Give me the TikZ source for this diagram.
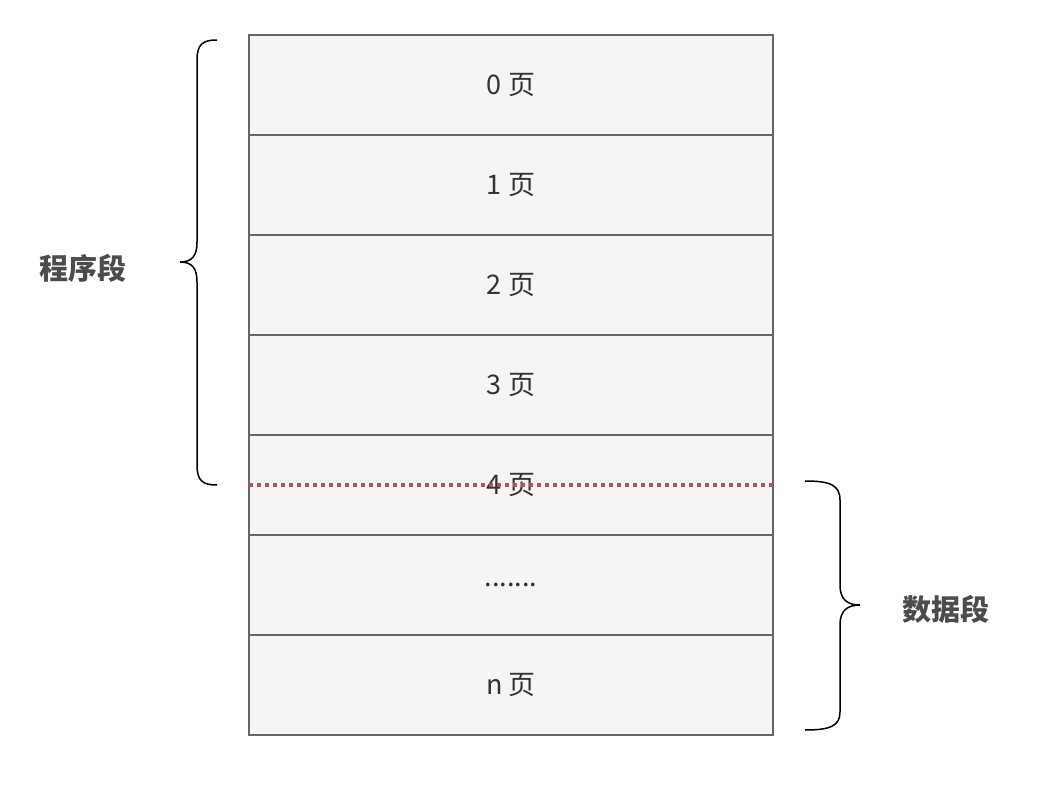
\documentclass[tikz,border=0pt]{standalone}
\usepackage{fontspec}
\newfontfamily\cjk{Noto Sans CJK SC}
\begin{document}
\begin{tikzpicture}[x=1pt,y=-1pt,
  cell/.style={draw=black!60,fill=black!4,line width=1.2pt,minimum width=524pt,minimum height=100pt,inner sep=0pt,font=\cjk\fontsize{27}{30}\selectfont,text=black!80},
  lbl/.style={font=\cjk\bfseries\fontsize{29}{32}\selectfont,text=black!70},
  brc/.style={draw=black,line width=1.5pt}]
\useasboundingbox (0,0) rectangle (1061,803);
\node[cell] (c0) at (511,85) {0 页};
\node[cell] (c1) at (511,185) {1 页};
\node[cell] (c2) at (511,285) {2 页};
\node[cell] (c3) at (511,385) {3 页};
\node[cell] (c4) at (511,485) {4 页};
\node[cell] (c5) at (511,585) {.......};
\node[cell] (c6) at (511,685) {n 页};
\coordinate (d1) at (249,485); \coordinate (d2) at (773,485);
\draw[color={rgb,255:red,184;green,84;blue,80},line width=3.5pt,dash pattern=on 4pt off 4pt] (d1) -- (d2);
\draw[brc] (217,40) .. controls (203,40) and (197,44) .. (197,60) -- (197,242) .. controls (197,256) and (192,262) .. (180,262) .. controls (192,262) and (197,268) .. (197,282) -- (197,465) .. controls (197,481) and (203,485) .. (217,485);
\draw[brc] (805,481) .. controls (830,481) and (840,485) .. (840,500) -- (840,585) .. controls (840,600) and (848,605) .. (860,605) .. controls (848,605) and (840,610) .. (840,625) -- (840,712) .. controls (840,726) and (830,730) .. (805,730);
\node[lbl] (p) at (83,268) {程序段};
\node[lbl] (d) at (946,609) {数据段};
\end{tikzpicture}
\end{document}
